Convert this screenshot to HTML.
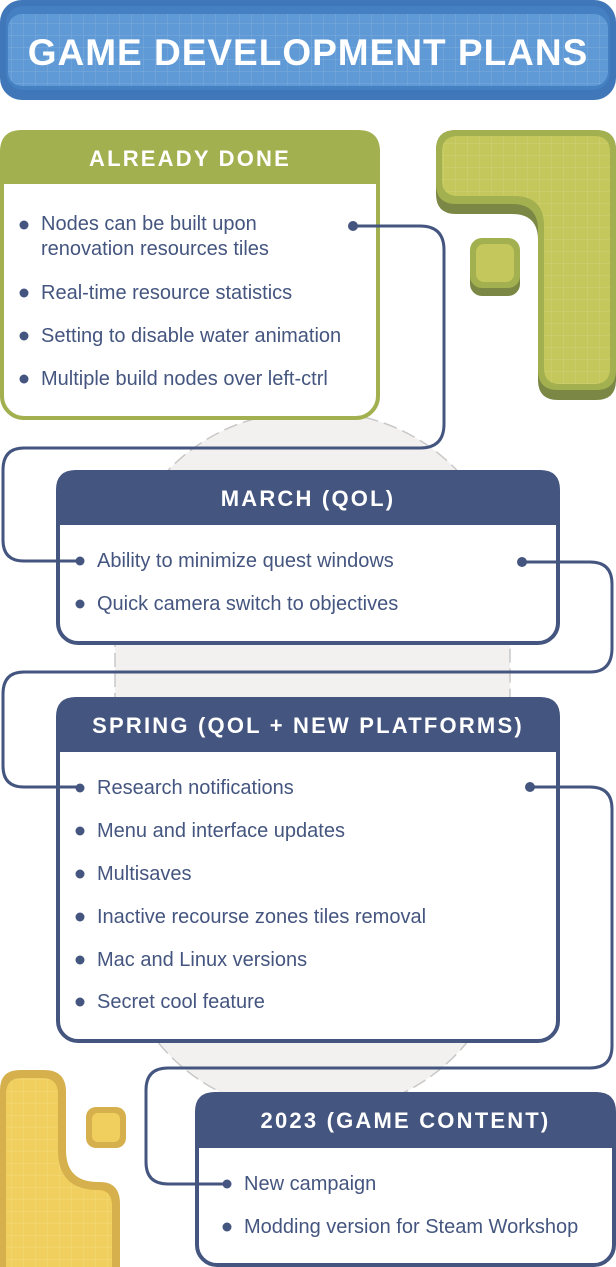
<!DOCTYPE html>
<html><head><meta charset="utf-8"><style>
body{margin:0;width:616px;height:1267px;position:relative;overflow:hidden;background:#fff;font-family:"Liberation Sans",sans-serif;}
.t{position:absolute;color:#44557f;font-size:20px;white-space:nowrap;line-height:25px;}
.h{position:absolute;color:#fff;font-weight:bold;font-size:22px;letter-spacing:2.2px;text-align:center;}
</style></head><body>
<svg width="616" height="1267" style="position:absolute;left:0;top:0">
<defs>
<pattern id="g" width="12" height="12" patternUnits="userSpaceOnUse"><path d="M12 0V12H0" fill="none" stroke="rgba(255,255,255,0.18)" stroke-width="1"/></pattern>
</defs>
<rect x="115" y="412" width="395" height="700" rx="190" fill="#f2f1ef" stroke="#c8c8c8" stroke-width="1.5" stroke-dasharray="14 6"/>
<!-- title -->
<rect x="0" y="0" width="616" height="100" rx="22" fill="#3f77b9"/>
<rect x="6" y="6" width="604" height="84" rx="17" fill="#4580c2"/>
<rect x="8" y="14" width="600" height="72" rx="14" fill="#5f9ad6"/>
<rect x="8" y="14" width="600" height="72" rx="14" fill="url(#g)"/>
<!-- green L -->
<path d="M436 150 Q436 130 456 130 H596 Q616 130 616 150 V380 Q616 400 596 400 H558 Q538 400 538 380 V240 Q538 214 512 214 H456 Q436 214 436 194Z" fill="#7b8744"/>
<path d="M436 150 Q436 130 456 130 H596 Q616 130 616 150 V370 Q616 390 596 390 H558 Q538 390 538 370 V230 Q538 204 512 204 H456 Q436 204 436 184Z" fill="#a3b04f"/>
<path d="M442 152 Q442 136 458 136 H594 Q610 136 610 152 V368 Q610 384 594 384 H560 Q544 384 544 368 V226 Q544 196 514 196 H458 Q442 196 442 180Z" fill="#c4c75c"/>
<path d="M442 152 Q442 136 458 136 H594 Q610 136 610 152 V368 Q610 384 594 384 H560 Q544 384 544 368 V226 Q544 196 514 196 H458 Q442 196 442 180Z" fill="url(#g)"/>
<rect x="470" y="246" width="50" height="50" rx="12" fill="#7b8744"/>
<rect x="470" y="238" width="50" height="50" rx="12" fill="#a3b04f"/>
<rect x="476" y="244" width="38" height="38" rx="8" fill="#c4c75c"/>
<!-- yellow -->
<path d="M0 1090 Q0 1070 20 1070 H44 Q66 1070 66 1092 V1150 Q66 1182 98 1182 H100 Q120 1182 120 1204 V1267 H0Z" fill="#d5b04d"/>
<path d="M6 1094 Q6 1078 22 1078 H42 Q58 1078 58 1094 V1150 Q58 1190 98 1190 Q112 1190 112 1206 V1267 H6Z" fill="#f0cf5e"/>
<path d="M6 1094 Q6 1078 22 1078 H42 Q58 1078 58 1094 V1150 Q58 1190 98 1190 Q112 1190 112 1206 V1267 H6Z" fill="url(#g)"/>
<rect x="86" y="1107" width="40" height="41" rx="10" fill="#d5b04d"/>
<rect x="92" y="1113" width="28" height="29" rx="6" fill="#f0cf5e"/>
<!-- boxes -->
<rect x="2" y="132" width="376" height="286" rx="22" fill="#fff" stroke="#a3b04f" stroke-width="4"/>
<path d="M0 152 Q0 130 22 130 H358 Q380 130 380 152 V184 H0Z" fill="#a3b04f"/>
<rect x="58" y="472" width="500" height="171" rx="20" fill="#fff" stroke="#44557f" stroke-width="4"/>
<path d="M56 490 Q56 470 76 470 H540 Q560 470 560 490 V525 H56Z" fill="#44557f"/>
<rect x="58" y="699" width="500" height="342" rx="20" fill="#fff" stroke="#44557f" stroke-width="4"/>
<path d="M56 717 Q56 697 76 697 H540 Q560 697 560 717 V752 H56Z" fill="#44557f"/>
<rect x="197" y="1094" width="417" height="171" rx="20" fill="#fff" stroke="#44557f" stroke-width="4"/>
<path d="M195 1112 Q195 1092 215 1092 H596 Q616 1092 616 1112 V1148 H195Z" fill="#44557f"/>
<!-- connectors -->
<g fill="none" stroke="#44557f" stroke-width="3">
<path d="M353 226 H420 Q444 226 444 250 V424 Q444 448 420 448 H24 Q3 448 3 470 V540 Q3 561 24 561 H80"/>
<path d="M522 562 H590 Q612 562 612 584 V648 Q612 672 590 672 H24 Q3 672 3 694 V766 Q3 787 24 787 H80"/>
<path d="M530 787 H590 Q612 787 612 809 V1046 Q612 1068 590 1068 H168 Q146 1068 146 1090 V1162 Q146 1184 168 1184 H227"/>
</g>
<g fill="#44557f">
<circle cx="353" cy="226" r="5"/><circle cx="522" cy="562" r="5"/><circle cx="530" cy="787" r="5"/>
<circle cx="24" cy="225" r="4.5"/><circle cx="24" cy="293" r="4.5"/><circle cx="24" cy="336" r="4.5"/><circle cx="24" cy="379" r="4.5"/>
<circle cx="80" cy="561" r="4.5"/><circle cx="80" cy="604" r="4.5"/>
<circle cx="80" cy="788" r="4.5"/><circle cx="80" cy="831" r="4.5"/><circle cx="80" cy="874" r="4.5"/><circle cx="80" cy="917" r="4.5"/><circle cx="80" cy="960" r="4.5"/><circle cx="80" cy="1002" r="4.5"/>
<circle cx="227" cy="1184" r="4.5"/><circle cx="227" cy="1227" r="4.5"/>
</g>
</svg>
<div class="h" style="left:0;width:616px;top:29px;font-size:37px;letter-spacing:1px;line-height:48px">GAME DEVELOPMENT PLANS</div>
<div class="h" style="left:0;width:380px;top:145px;line-height:28px">ALREADY DONE</div>
<div class="h" style="left:56px;width:504px;top:485px;line-height:28px">MARCH (QOL)</div>
<div class="h" style="left:56px;width:504px;top:712px;line-height:28px">SPRING (QOL + NEW PLATFORMS)</div>
<div class="h" style="left:195px;width:421px;top:1107px;line-height:28px">2023 (GAME CONTENT)</div>
<div class="t" style="left:41px;top:212px">Nodes can be built upon<br>renovation resources tiles</div>
<div class="t" style="left:41px;top:281px">Real-time resource statistics</div>
<div class="t" style="left:41px;top:324px">Setting to disable water animation</div>
<div class="t" style="left:41px;top:367px">Multiple build nodes over left-ctrl</div>
<div class="t" style="left:97px;top:549px">Ability to minimize quest windows</div>
<div class="t" style="left:97px;top:592px">Quick camera switch to objectives</div>
<div class="t" style="left:97px;top:776px">Research notifications</div>
<div class="t" style="left:97px;top:819px">Menu and interface updates</div>
<div class="t" style="left:97px;top:862px">Multisaves</div>
<div class="t" style="left:97px;top:905px">Inactive recourse zones tiles removal</div>
<div class="t" style="left:97px;top:948px">Mac and Linux versions</div>
<div class="t" style="left:97px;top:990px">Secret cool feature</div>
<div class="t" style="left:244px;top:1172px">New campaign</div>
<div class="t" style="left:244px;top:1215px">Modding version for Steam Workshop</div>
</body></html>
